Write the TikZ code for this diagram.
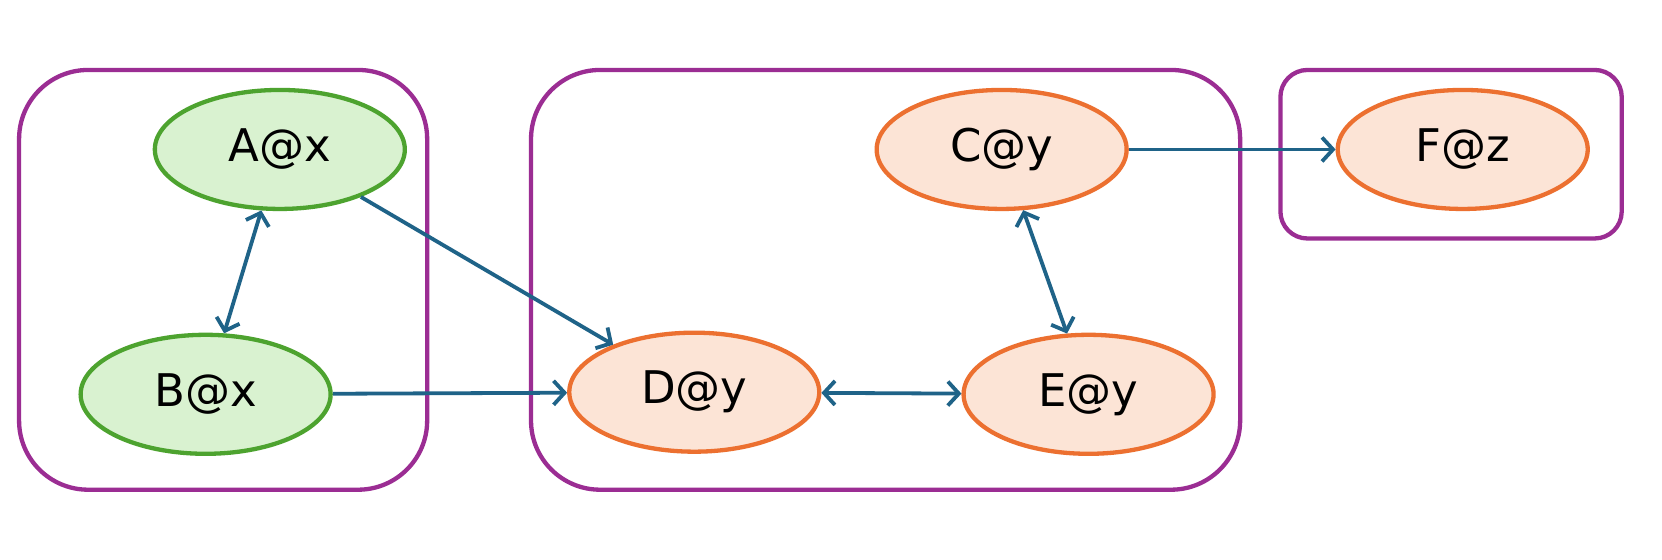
\documentclass[tikz,border=0pt]{standalone}
\usepackage{fontspec}
\setmainfont{DejaVu Sans}
\usetikzlibrary{shapes.geometric,arrows.meta}
\definecolor{pur}{HTML}{9B2D93}
\definecolor{gb}{HTML}{4DA32F}
\definecolor{gf}{HTML}{D9F2D0}
\definecolor{ob}{HTML}{EC7030}
\definecolor{of}{HTML}{FCE4D6}
\definecolor{ar}{HTML}{1F6388}
\begin{document}
\begin{tikzpicture}[x=1.06pt,y=-1.06pt,
  box/.style={draw=pur,line width=4.3pt},
  nd/.style={ellipse,line width=4.3pt,minimum width=250pt,minimum height=119pt,inner sep=0pt,font=\fontsize{45}{45}\selectfont},
  gn/.style={nd,draw=gb,fill=gf},
  on/.style={nd,draw=ob,fill=of},
  tip/.style={Straight Barb[length=11pt,width=24pt,line width=3.8pt]},
  ed/.style={draw=ar,line width=3.8pt,-{Straight Barb[length=11pt,width=24pt,line width=3.8pt]}},
  bd/.style={ed,{Straight Barb[length=11pt,width=24pt,line width=3.8pt]}-{Straight Barb[length=11pt,width=24pt,line width=3.8pt]}}]
\useasboundingbox[fill=white] (0,0) rectangle (1568,527.4);
\draw[box,rounded corners=69pt] (18,66) rectangle (403,462);
\draw[box,rounded corners=69pt] (501,66) rectangle (1170,462);
\draw[box,rounded corners=27pt] (1208,66) rectangle (1530,225);
\node[gn] (A) at (264,141) {A@x};
\node[gn] (B) at (194,372) {B@x};
\node[on] (C) at (945,141) {C@y};
\node[on] (D) at (655,370) {D@y};
\node[on] (E) at (1027,372) {E@y};
\node[on] (F) at (1380,141) {F@z};
\draw[bd] (A) -- (B);
\draw[ed] (A) -- (D);
\draw[ed] (B) -- (D);
\draw[bd] (C) -- (E);
\draw[bd] (D) -- (E);
\draw[ed] (C) -- (F);
\end{tikzpicture}
\end{document}
